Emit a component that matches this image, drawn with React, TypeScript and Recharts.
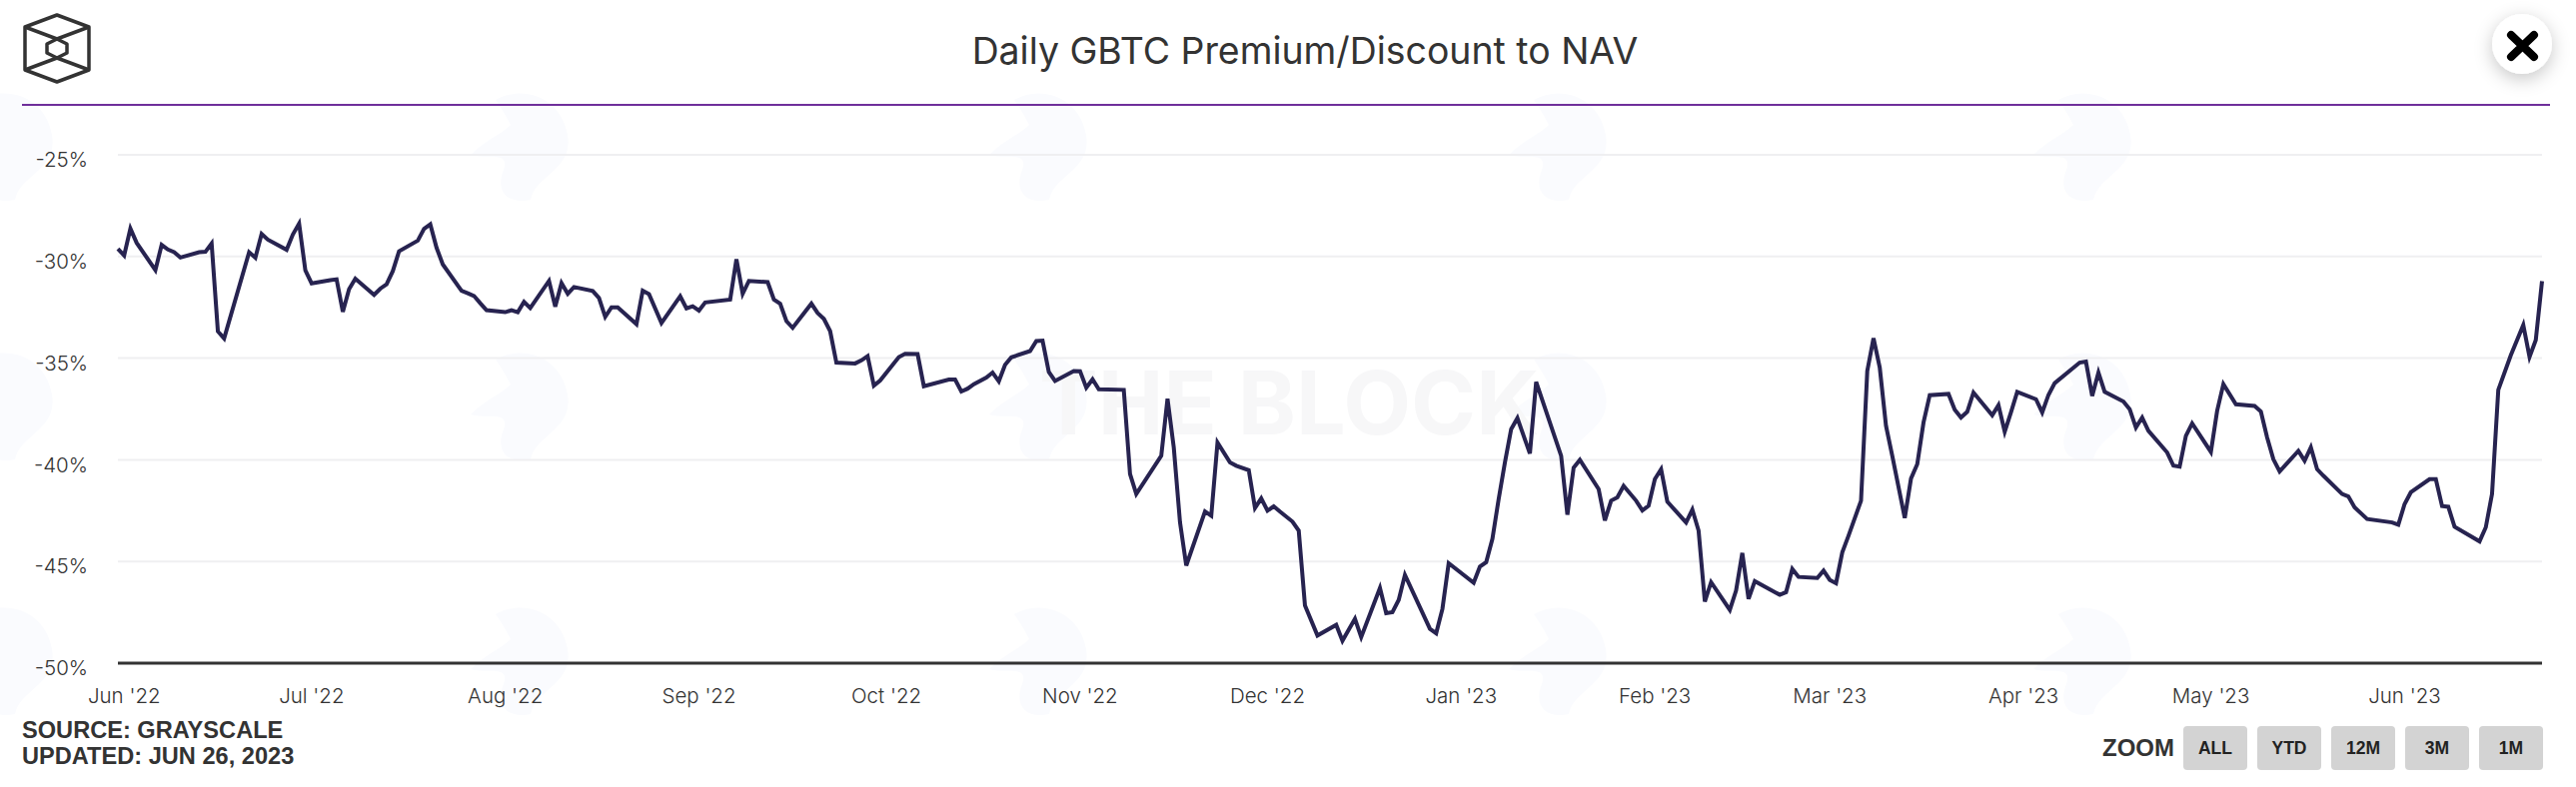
import React from "react";
import { LineChart, Line, XAxis, YAxis, CartesianGrid } from "recharts";

// x values are days counted from 31 May 2022, weekend gaps are left out
const days2022a = [
  0, 1, 2, 3, 6, 7, 8, 9, 10, 13, 14, 15, 16, 17, 21, 22, 23, 24, 27, 28, 29, 30, 31, 34, 35, 36, 37, 38, 41, 42, 43, 44, 45,
  48, 49, 50, 51, 52, 55, 56, 57, 58, 59, 62, 63, 64, 65, 66,
];
const premium2022a = [
  -29.62, -29.95, -28.63, -29.33, -30.67, -29.43, -29.66, -29.79, -30.05, -29.79, -29.77, -29.36, -33.68, -34.03, -29.79, -30.06, -28.89, -29.17, -29.67, -28.92, -28.38, -30.68, -31.32, -31.16, -31.12, -32.72, -31.61, -31.09, -31.89, -31.58, -31.37, -30.72, -29.74,
  -29.22, -28.64, -28.42, -29.57, -30.39, -31.69, -31.81, -31.94, -32.3, -32.64, -32.74, -32.64, -32.74, -32.23, -32.53,
];

const days2022b = [
  69, 70, 71, 72, 73, 76, 77, 78, 79, 80, 83, 84, 85, 87, 90, 91, 92, 93, 94, 98, 99, 100, 101, 104, 105, 106, 107, 108,
  111, 112, 113, 114, 115, 118, 119, 120, 121, 122, 125, 126, 128, 129, 133, 134, 135, 136, 137, 139, 140, 141, 142, 143,
  146, 147, 148, 149, 150, 153, 154, 155, 156, 157, 161, 162, 163, 167, 168, 169, 170, 171,
];
const premium2022b = [
  -31.2, -32.47, -31.31, -31.83, -31.5, -31.7, -32.04, -32.97, -32.5, -32.5, -33.33, -31.68, -31.85, -33.27, -31.96, -32.55, -32.45, -32.66, -32.26, -32.12, -30.14, -31.83, -31.2, -31.26, -32.12, -32.32, -33.18, -33.51,
  -32.32, -32.78, -33.07, -33.67, -35.22, -35.26, -35.11, -34.9, -36.35, -36.1, -34.95, -34.79, -34.8, -36.38, -36.05, -36.05, -36.64, -36.5, -36.28, -35.96, -35.71, -36.14, -35.33, -34.96,
  -34.65, -34.16, -34.14, -35.68, -36.12, -35.63, -35.64, -36.45, -36.04, -36.53, -36.56, -40.7, -41.68, -39.8, -37.0, -39.39, -43.08, -45.2,
];

const daysWinter = [
  174, 175, 176, 178, 179, 181, 182, 183, 184, 185, 186, 188, 189, 190, 192, 195, 196, 198, 199, 202, 203, 204, 205, 206,
  210, 211, 212, 213, 217, 218, 219, 220, 221, 222, 223, 224, 225, 226, 227, 231, 232, 233, 234, 237, 238, 239, 240, 241,
  243, 244, 245, 246, 247, 248, 251, 252, 253, 254, 255,
];
const premiumWinter = [
  -42.54, -42.75, -39.15, -40.13, -40.29, -40.51, -42.37, -41.9, -42.5, -42.29, -42.55, -43.04, -43.48, -47.17, -48.64, -48.12, -48.9, -47.82, -48.72, -46.3, -47.54, -47.49, -46.89, -45.66,
  -48.31, -48.53, -47.33, -45.09, -46.05, -45.25, -45.04, -43.89, -41.93, -40.13, -38.49, -37.95, -38.82, -39.69, -36.17, -39.8, -42.7, -40.39, -40.0, -41.44, -42.98, -42.01, -41.85, -41.28,
  -42.01, -42.49, -42.26, -40.95, -40.46, -42.06, -43.08, -42.45, -43.48, -46.97, -46.02,
];

const daysSpring = [
  258, 259, 260, 261, 262, 266, 267, 268, 269, 272, 273, 274, 275, 276, 277, 279, 280, 281, 282, 283, 284, 286, 287, 288, 289, 290,
  293, 294, 295, 296, 297, 300, 301, 302, 303, 304, 307, 308, 309, 310, 314, 315, 316, 317, 318, 321, 322, 323, 324, 325,
  328, 329, 330, 331, 332, 335, 336, 337, 339, 342, 343, 344, 345, 346, 349, 350, 351, 352, 353,
];
const premiumSpring = [
  -47.38, -46.43, -44.58, -46.84, -45.97, -46.64, -46.51, -45.37, -45.76, -45.81, -45.45, -45.91, -46.07, -44.55, -43.73, -42.01, -35.63, -34.02, -35.47, -38.33, -39.8, -42.86, -40.92, -40.21, -38.17, -36.82,
  -36.76, -37.54, -37.92, -37.64, -36.69, -37.81, -37.31, -38.62, -37.67, -36.66, -37.02, -37.67, -36.81, -36.23, -35.22, -35.17, -36.86, -35.71, -36.66, -37.13, -37.51, -38.41, -37.92, -38.57,
  -39.64, -40.29, -40.34, -38.82, -38.21, -39.61, -37.59, -36.28, -37.27, -37.35, -37.63, -38.9, -39.97, -40.57, -39.56, -40.05, -39.39, -40.46, -40.78,
];

const daysJune = [356, 357, 358, 360, 364, 365, 366, 367, 370, 371, 372, 373, 374, 378, 379, 380, 381, 383, 385, 386, 387, 388];
const premiumJune = [
  -41.68, -41.8, -42.34, -42.91, -43.08, -43.19, -42.18, -41.6, -40.95, -40.95, -42.27, -42.31, -43.29, -44.01, -43.32, -41.68, -36.56, -34.86, -33.37, -34.94, -34.11, -31.21,
];

const monthTicks = [1, 31, 62, 93, 123, 154, 184, 215, 246, 274, 305, 335, 366];
const monthLabels = ["Jun '22", "Jul '22", "Aug '22", "Sep '22", "Oct '22", "Nov '22", "Dec '22", "Jan '23", "Feb '23", "Mar '23", "Apr '23", "May '23", "Jun '23"];
const yTicks = [-50, -45, -40, -35, -30, -25];
const zoomButtons = ["ALL", "YTD", "12M", "3M", "1M"];

const allDays = [...days2022a, ...days2022b, ...daysWinter, ...daysSpring, ...daysJune];
const allPremium = [...premium2022a, ...premium2022b, ...premiumWinter, ...premiumSpring, ...premiumJune];
const chartData = allDays.map((day, i) => ({ day, premium: allPremium[i] }));

const blobColumns = [10, 526, 1045, 1565, 2090];
const blobRows = [145, 405, 660];

const tickFont = { fontFamily: "Inter", fontSize: 20.5, fontWeight: 300, fill: "#333" };

function Logo() {
  return (
    <svg width={110} height={100} style={{ position: "absolute", left: 0, top: 0 }}>
      <g fill="none" stroke="#333" strokeWidth={3.5} strokeLinejoin="round">
        <path d="M57 15 L89 27 L89 70 L57 82 L25 70 L25 27 Z" />
        <path d="M57 39 L67 44 L67 53 L57 58 L47 53 L47 44 Z" />
        <path d="M25 27 L57 39 L89 27 M25 70 L57 58 L89 70" />
      </g>
    </svg>
  );
}

function Watermarks() {
  return (
    <svg width={2578} height={788} style={{ position: "absolute", left: 0, top: 0 }}>
      {blobColumns.map((cx) =>
        blobRows.map((cy) => (
          <path
            key={`${cx}-${cy}`}
            transform={`translate(${cx} ${cy})`}
            d="M-30 -45 C-5 -60 35 -50 42 -10 C48 25 10 30 5 55 C-20 60 -30 45 -22 25 C-15 5 -40 15 -55 10 C-40 -5 -25 -10 -15 -20 C-20 -30 -25 -38 -30 -45 Z"
            fill="#fafbfe"
          />
        ))
      )}
    </svg>
  );
}

export default function App() {
  return (
    <div style={{ position: "absolute", left: 0, top: 0, width: 2578, height: 788, background: "#fff", overflow: "hidden" }}>
      <Watermarks />
      <Logo />
      <div
        style={{
          position: "absolute",
          left: 1040,
          top: 358,
          fontFamily: "Inter",
          fontSize: 88,
          fontWeight: 700,
          color: "#f7f7f8",
          lineHeight: "90px",
          whiteSpace: "nowrap",
        }}
      >
        THE BLOCK
      </div>
      <div
        style={{
          position: "absolute",
          left: 0,
          width: 2612,
          top: 26,
          textAlign: "center",
          fontFamily: "Inter",
          fontSize: 37.4,
          fontWeight: 400,
          color: "#333",
          lineHeight: "50px",
        }}
      >
        Daily GBTC Premium/Discount to NAV
      </div>
      <div style={{ position: "absolute", left: 22, top: 104, width: 2530, height: 2, background: "#6f2f9b" }} />

      <div style={{ position: "absolute", left: 0, top: 0 }}>
        <LineChart width={2578} height={788} data={chartData} margin={{ top: 155, right: 34, bottom: 0, left: 0 }}>
          <CartesianGrid vertical={false} stroke="#efeff1" strokeWidth={2} />
          <XAxis
            dataKey="day"
            type="number"
            domain={[0, 388]}
            ticks={monthTicks}
            interval={0}
            height={124}
            tickFormatter={(d: number) => monthLabels[monthTicks.indexOf(d)]}
            tick={tickFont}
            tickLine={false}
            tickSize={0}
            tickMargin={25}
            axisLine={{ stroke: "#333", strokeWidth: 3 }}
          />
          <YAxis
            type="number"
            domain={[-50, -25]}
            ticks={yTicks}
            interval={0}
            width={118}
            tickFormatter={(v: number) => `${v}%`}
            tick={{ ...tickFont, dy: 5 }}
            tickLine={false}
            tickSize={0}
            tickMargin={30}
            axisLine={false}
          />
          <Line type="linear" dataKey="premium" stroke="#272350" strokeWidth={4} dot={false} isAnimationActive={false} />
        </LineChart>
      </div>

      <div
        style={{
          position: "absolute",
          left: 22,
          top: 718,
          fontFamily: "Liberation Sans",
          fontWeight: 700,
          fontSize: 23.6,
          lineHeight: "26px",
          color: "#333",
        }}
      >
        SOURCE: GRAYSCALE
        <br />
        UPDATED: JUN 26, 2023
      </div>

      <div
        style={{
          position: "absolute",
          left: 2104,
          top: 735,
          fontFamily: "Liberation Sans",
          fontWeight: 700,
          fontSize: 24,
          lineHeight: "28px",
          color: "#333",
        }}
      >
        ZOOM
      </div>
      {zoomButtons.map((label, i) => (
        <div
          key={label}
          style={{
            position: "absolute",
            left: 2185 + i * 74,
            top: 727,
            width: 64,
            height: 44,
            background: "#d3d3d3",
            borderRadius: 4,
            textAlign: "center",
            fontFamily: "Liberation Sans",
            fontWeight: 700,
            fontSize: 17.5,
            lineHeight: "44px",
            color: "#222",
          }}
        >
          {label}
        </div>
      ))}

      <svg width={2578} height={120} style={{ position: "absolute", left: 0, top: 0, pointerEvents: "none" }}>
        <defs>
          <filter id="closeShadow" x="-50%" y="-50%" width="200%" height="200%">
            <feDropShadow dx={0} dy={5} stdDeviation={9} floodColor="#000" floodOpacity={0.22} />
          </filter>
        </defs>
        <circle cx={2524} cy={44} r={30} fill="#fff" filter="url(#closeShadow)" />
        <path d="M2513 35 L2536 57 M2536 35 L2513 57" stroke="#000" strokeWidth={8} strokeLinecap="round" />
      </svg>
    </div>
  );
}
